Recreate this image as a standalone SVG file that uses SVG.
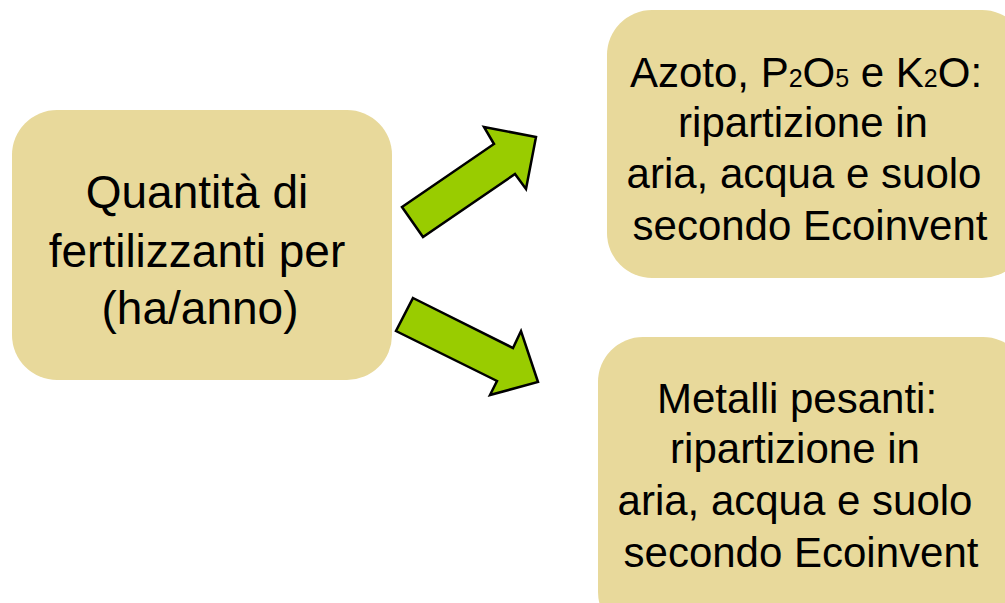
<svg xmlns="http://www.w3.org/2000/svg" width="1005" height="603" viewBox="0 0 1005 603">
<style>
.box{fill:#E8D99B;}
.t{font-family:"Liberation Sans",Arial,sans-serif;fill:#000;text-anchor:middle;}
.l{font-size:46px;}
.r{font-size:42px;}
.sub{font-size:25px;}
.arrow{fill:#99CC00;stroke:#000;stroke-width:2.5;stroke-linejoin:miter;}
</style>
<rect width="1005" height="603" fill="#fff"/>
<g id="node-source">
<rect class="box" x="12" y="110" width="380" height="270" rx="45" ry="45"/>
<text class="t l" x="197" y="208">Quantità di</text>
<text class="t l" x="197" y="267">fertilizzanti per</text>
<text class="t l" x="200" y="324">(ha/anno)</text>
</g>
<g id="node-nutrients">
<rect class="box" x="607" y="10" width="420" height="268" rx="45" ry="45"/>
<text class="t r" x="806" y="87">Azoto, P<tspan class="sub">2</tspan>O<tspan class="sub">5</tspan> e K<tspan class="sub">2</tspan>O:</text>
<text class="t r" x="803" y="137">ripartizione in</text>
<text class="t r" x="804" y="188">aria, acqua e suolo</text>
<text class="t r" x="810" y="240">secondo Ecoinvent</text>
</g>
<g id="node-metals">
<rect class="box" x="598" y="337" width="430" height="300" rx="45" ry="45"/>
<text class="t r" x="797" y="413">Metalli pesanti:</text>
<text class="t r" x="795" y="463">ripartizione in</text>
<text class="t r" x="795" y="515">aria, acqua e suolo</text>
<text class="t r" x="801" y="567">secondo Ecoinvent</text>
</g>
<g id="connectors">
<polygon class="arrow" points="402,207 494,144 484,127 536,137 526,189 515,174 423,237"/>
<polygon class="arrow" points="413,298 513,348 521,331 538,382 490,395 497,381 396,331"/>
</g>
</svg>
